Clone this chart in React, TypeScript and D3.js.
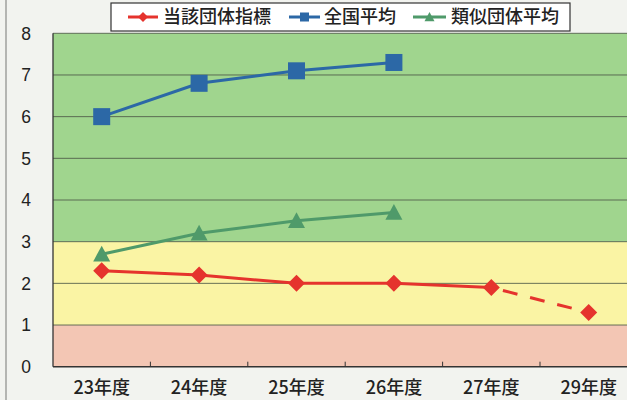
import React from "react";
import * as d3 from "d3";

const categories = ["23年度", "24年度", "25年度", "26年度", "27年度", "29年度"];
const ownValues = [2.3, 2.2, 2.0, 2.0, 1.9, 1.3];
const ownSolidCount = 5; // last segment (27→29) is dashed
const nationalAvg = [6.0, 6.8, 7.1, 7.3];
const similarAvg = [2.7, 3.2, 3.5, 3.7];
const yTicks = [0, 1, 2, 3, 4, 5, 6, 7, 8];
const bandLimits = [0, 1, 3, 8];
const bandColors = ["#f3c6b4", "#faf4a4", "#a0d58e"];
const legendLabels = ["当該団体指標", "全国平均", "類似団体平均"];

const W = 627;
const H = 400;
const left = 53;
const top = 33.3;
const bottom = 366.7;
const bandStep = 97.4;
const right = left + bandStep * categories.length;

const RED = "#e5332d";
const BLUE = "#2c68a6";
const GREEN = "#4f9a6a";

function Diamond({ x, y, s, fill }: { x: number; y: number; s: number; fill: string }) {
  const p = d3.path();
  p.moveTo(x, y - s);
  p.lineTo(x + s, y);
  p.lineTo(x, y + s);
  p.lineTo(x - s, y);
  p.closePath();
  return <path d={p.toString()} fill={fill} />;
}
function Square({ x, y, s, fill }: { x: number; y: number; s: number; fill: string }) {
  return <rect x={x - s} y={y - s} width={2 * s} height={2 * s} fill={fill} />;
}
function Tri({ x, y, s, fill }: { x: number; y: number; s: number; fill: string }) {
  const p = d3.path();
  p.moveTo(x, y - s);
  p.lineTo(x + s, y + s * 0.85);
  p.lineTo(x - s, y + s * 0.85);
  p.closePath();
  return <path d={p.toString()} fill={fill} />;
}

export default function App() {
  const x = d3.scaleBand<string>().domain(categories).range([left, right]);
  const y = d3.scaleLinear().domain([0, 8]).range([bottom, top]);
  const cx = (c: string) => (x(c) ?? 0) + x.bandwidth() / 2;
  const line = d3
    .line<number>()
    .x((_, i) => cx(categories[i]))
    .y((v) => y(v));

  const ownSolid = ownValues.slice(0, ownSolidCount);
  const dashPts: [number, number][] = ownValues
    .slice(ownSolidCount - 1)
    .map((v, i) => [cx(categories[ownSolidCount - 1 + i]), y(v)]);

  const legendItems = [
    { label: legendLabels[0], color: RED, lx: 128, lw: 30, tx: 163, marker: "d" },
    { label: legendLabels[1], color: BLUE, lx: 289, lw: 31, tx: 324, marker: "s" },
    { label: legendLabels[2], color: GREEN, lx: 413, lw: 33, tx: 451, marker: "t" },
  ];

  return (
    <svg
      width={W}
      height={H}
      style={{ position: "absolute", left: 0, top: 0, background: "#f2f3ef" }}
    >
      <rect x={0} y={0} width={W} height={H} fill="#f2f3ef" />
      <line x1={6} x2={6} y1={0} y2={H} stroke="#8a8c88" strokeWidth={1.2} />
      {/* bands */}
      {bandColors.map((c, i) => (
        <rect
          key={i}
          x={left}
          width={right - left}
          y={y(bandLimits[i + 1])}
          height={y(bandLimits[i]) - y(bandLimits[i + 1])}
          fill={c}
        />
      ))}
      {/* gridlines */}
      {yTicks.slice(1).map((t) => (
        <line
          key={t}
          x1={left}
          x2={right}
          y1={y(t)}
          y2={y(t)}
          stroke="#4e5a48"
          strokeWidth={1}
          opacity={0.85}
        />
      ))}
      {/* axes */}
      <line x1={left} x2={left} y1={top} y2={bottom} stroke="#333" strokeWidth={1.3} />
      <line x1={left} x2={right} y1={bottom} y2={bottom} stroke="#333" strokeWidth={1.5} />
      {categories.slice(1).map((c) => (
        <line key={c} x1={x(c)} x2={x(c)} y1={bottom} y2={bottom - 5} stroke="#333" strokeWidth={1} />
      ))}
      {/* y labels */}
      {yTicks.map((t) => (
        <text
          key={t}
          x={26}
          y={y(t)}
          dy="0.36em"
          textAnchor="middle"
          fontFamily="'Liberation Sans', Arial, sans-serif"
          fontSize={17.5}
          fill="#222"
        >
          {t}
        </text>
      ))}
      {/* x labels */}
      {categories.map((c) => (
        <text
          key={c}
          x={cx(c)}
          y={394}
          textAnchor="middle"
          fontFamily="'Noto Sans CJK JP', sans-serif"
          fontSize={18}
          fontWeight={500}
          fill="#222"
        >
          {c}
        </text>
      ))}
      {/* national avg */}
      <path d={line(nationalAvg) ?? ""} fill="none" stroke={BLUE} strokeWidth={3} />
      {nationalAvg.map((v, i) => (
        <Square key={i} x={cx(categories[i])} y={y(v)} s={8.5} fill={BLUE} />
      ))}
      {/* similar avg */}
      <path d={line(similarAvg) ?? ""} fill="none" stroke={GREEN} strokeWidth={3} />
      {similarAvg.map((v, i) => (
        <Tri key={i} x={cx(categories[i])} y={y(v)} s={8.5} fill={GREEN} />
      ))}
      {/* own */}
      <path d={line(ownSolid) ?? ""} fill="none" stroke={RED} strokeWidth={3} />
      <path
        d={d3.line()(dashPts) ?? ""}
        fill="none"
        stroke={RED}
        strokeWidth={3}
        strokeDasharray="15,13"
        strokeDashoffset={-12}
      />
      {ownValues.map((v, i) => (
        <Diamond key={i} x={cx(categories[i])} y={y(v)} s={8.5} fill={RED} />
      ))}
      {/* legend */}
      <rect x={111} y={3} width={459} height={28} fill="#fff" stroke="#333" strokeWidth={1.2} />
      {legendItems.map((it) => (
        <g key={it.label}>
          <line x1={it.lx} x2={it.lx + it.lw} y1={17} y2={17} stroke={it.color} strokeWidth={3} />
          {it.marker === "d" && <Diamond x={it.lx + it.lw / 2} y={17} s={5} fill={it.color} />}
          {it.marker === "s" && <Square x={it.lx + it.lw / 2} y={17} s={4.5} fill={it.color} />}
          {it.marker === "t" && <Tri x={it.lx + it.lw / 2} y={17} s={5} fill={it.color} />}
          <text
            x={it.tx}
            y={17}
            dy="0.36em"
            fontFamily="'Noto Sans CJK JP', sans-serif"
            fontSize={18}
            fontWeight={500}
            fill="#222"
          >
            {it.label}
          </text>
        </g>
      ))}
    </svg>
  );
}
